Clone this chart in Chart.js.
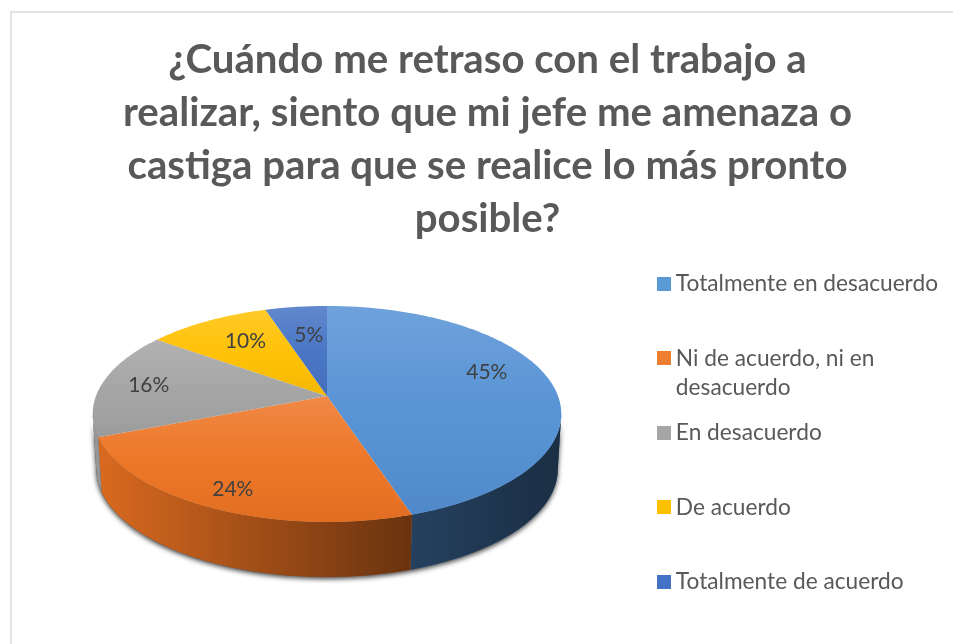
<!DOCTYPE html>
<html>
<head>
<meta charset="utf-8">
<style>
  html, body { margin: 0; padding: 0; background: #fff; overflow: hidden; height: 644px; }
  #frame { position: absolute; left: 10px; top: 11px; width: 960px; height: 660px; border: 2px solid #e4e4e4; box-sizing: border-box; }
  #chart { position: absolute; left: 0; top: 0; }
</style>
<script src="https://cdn.jsdelivr.net/npm/chart.js@4"></script>
</head>
<body>
<div id="frame"></div>
<!-- taller than the window so the legend keeps one column -->
<canvas id="chart" width="953" height="680"></canvas>
<script>
const titleLines = [
    "¿Cuándo me retraso con el trabajo a",
    "realizar, siento que mi jefe me amenaza o",
    "castiga para que se realice lo más pronto",
    "posible?",
];
const categories = [
    "Totalmente en desacuerdo",
    ["Ni de acuerdo, ni en", "desacuerdo"],
    "En desacuerdo",
    "De acuerdo",
    "Totalmente de acuerdo",
];
const percentValues = [45, 24, 16, 10, 5];
const sliceColors = ["#5390d4", "#ed7322", "#a3a3a3", "#ffc000", "#4472c4"];
const legendColors = ["#5b9bd5", "#ed7d31", "#a5a5a5", "#ffc000", "#4472c4"];

// perspective pie: a flat circle seen from above, the near edge bigger
const pie = {
    cx: 327, cy: 414, rx: 231, ry: 108, lift: 18, depth: 55, bottomScale: 0.985,
    labelRadius: 0.75,
    labelNudge: [[-8, -12], [-11, 13], [-9, -1], [11, 3], [6, 8]],
};

function project(angle, t) {
    const u = t * Math.cos(angle);
    const v = t * Math.sin(angle);
    const w = 1 - (pie.lift / pie.ry) * v;
    return {
        x: pie.cx + (pie.rx * u) / w,
        y: pie.cy + (pie.ry * v - pie.lift) / w,
    };
}

function rimPoints(from, to) {
    const steps = Math.max(2, Math.ceil(Math.abs(to - from) * 60));
    const points = [];
    for (let i = 0; i <= steps; i++) {
        points.push(project(from + ((to - from) * i) / steps, 1));
    }
    return points;
}

function traceWall(ctx, from, to) {
    ctx.beginPath();
    rimPoints(from, to).forEach((p) => ctx.lineTo(p.x, p.y));
    rimPoints(to, from).forEach((p) => {
        ctx.lineTo(pie.cx + (p.x - pie.cx) * pie.bottomScale, p.y + pie.depth);
    });
    ctx.closePath();
}

// legend swatch as an image, so it can sit closer to the text than the default gap
function makeSwatch(color) {
    const swatch = document.createElement("canvas");
    swatch.width = 14;
    swatch.height = 14;
    const c = swatch.getContext("2d");
    c.fillStyle = color;
    c.fillRect(0, 0, 14, 14);
    return swatch;
}

const pie3d = {
    id: "pie3d",
    beforeDatasetsDraw(chart) {
        const ctx = chart.ctx;
        const arcs = chart.getDatasetMeta(0).data;
        const rimStart = Math.asin(pie.lift / pie.ry);
        const rimEnd = Math.PI - rimStart;

        // shadow under the wall
        ctx.save();
        ctx.shadowColor = "rgba(0,0,0,0.75)";
        ctx.shadowBlur = 5;
        ctx.shadowOffsetY = 2;
        ctx.fillStyle = "#444";
        traceWall(ctx, rimStart, rimEnd);
        ctx.fill();
        ctx.restore();

        // wall
        const shade = ctx.createLinearGradient(pie.cx - pie.rx, 0, pie.cx + pie.rx, 0);
        shade.addColorStop(0, "rgba(0,0,0,0.08)");
        shade.addColorStop(0.67, "rgba(0,0,0,0.55)");
        shade.addColorStop(1, "rgba(0,0,0,0.68)");
        arcs.forEach((arc, i) => {
            const from = Math.max(arc.startAngle, rimStart);
            const to = Math.min(arc.endAngle, rimEnd);
            if (to <= from) return;
            [sliceColors[i], shade].forEach((fill) => {
                ctx.fillStyle = fill;
                traceWall(ctx, from, to);
                ctx.fill();
            });
        });

        // top face, each slice with its own sheen
        const apex = project(0, 0);
        arcs.forEach((arc, i) => {
            const rim = rimPoints(arc.startAngle, arc.endAngle);
            const ys = rim.map((p) => p.y).concat(apex.y);
            const sheen = ctx.createLinearGradient(0, Math.min(...ys), 0, Math.max(...ys));
            sheen.addColorStop(0, "rgba(255,255,255,0.16)");
            sheen.addColorStop(0.5, "rgba(255,255,255,0.03)");
            sheen.addColorStop(1, "rgba(0,0,0,0.05)");
            [sliceColors[i], sheen].forEach((fill) => {
                ctx.fillStyle = fill;
                ctx.beginPath();
                ctx.moveTo(apex.x, apex.y);
                rim.forEach((p) => ctx.lineTo(p.x, p.y));
                ctx.closePath();
                ctx.fill();
            });
        });

        // value labels
        ctx.fillStyle = "#404040";
        ctx.font = "21px Lato";
        ctx.textAlign = "center";
        ctx.textBaseline = "middle";
        arcs.forEach((arc, i) => {
            const p = project((arc.startAngle + arc.endAngle) / 2, pie.labelRadius);
            ctx.fillText(percentValues[i] + "%", p.x + pie.labelNudge[i][0], p.y + pie.labelNudge[i][1]);
        });
        return false;
    },
};

new Chart(document.getElementById("chart"), {
    type: "pie",
    data: {
        labels: categories,
        datasets: [{ data: percentValues, backgroundColor: sliceColors, borderWidth: 0 }],
    },
    options: {
        responsive: false,
        animation: false,
        layout: { padding: { left: 27, right: 5, top: 0, bottom: 0 } },
        plugins: {
            tooltip: { enabled: false },
            title: {
                display: true,
                text: titleLines,
                color: "#595959",
                font: { family: "Lato", size: 40.2, weight: "bold", lineHeight: 53 / 40.2 },
                padding: { top: 34, bottom: 10 },
            },
            legend: {
                position: "right",
                align: "start",
                fullSize: false,
                labels: {
                    color: "#595959",
                    font: { family: "Lato", size: 22.7, lineHeight: 29 / 22.7 },
                    usePointStyle: true,
                    pointStyleWidth: 2,
                    padding: 16.5,
                    // every entry takes two lines, so the steps stay even
                    generateLabels(chart) {
                        return Chart.overrides.pie.plugins.legend.labels.generateLabels(chart).map((item, i) => {
                            item.text = [].concat(item.text, "").slice(0, 2);
                            item.pointStyle = makeSwatch(legendColors[i]);
                            return item;
                        });
                    },
                },
            },
        },
    },
    plugins: [pie3d],
});
</script>
</body>
</html>
